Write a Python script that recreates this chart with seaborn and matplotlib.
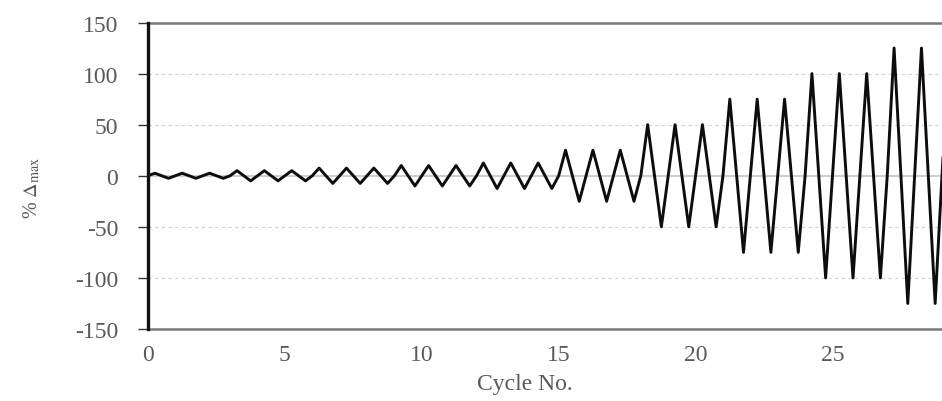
import pandas as pd
import matplotlib
matplotlib.use("Agg")
import matplotlib.pyplot as plt
import seaborn as sns

# amplitude (% of max drift) of each loading cycle, 3 cycles per level
cycle_amplitude = [2.5, 2.5, 2.5,
                   5, 5, 5,
                   7.5, 7.5, 7.5,
                   10, 10, 10,
                   12.5, 12.5, 12.5,
                   25, 25, 25,
                   50, 50, 50,
                   75, 75, 75,
                   100, 100, 100,
                   125, 125, 125]
y_ticks = [-150, -100, -50, 0, 50, 100, 150]
x_ticks = [0, 5, 10, 15, 20, 25]

# triangular history: 0 -> +a -> -a -> 0 in each cycle
xs, ys = [0.0], [0.0]
for n, a in enumerate(cycle_amplitude):
    xs += [n + 0.25, n + 0.75, n + 1.0]
    ys += [a, -a, 0.0]
df = pd.DataFrame({"cycle": xs, "drift": ys})

sns.set_theme(style="white")
plt.rcParams["font.family"] = ["Liberation Serif", "DejaVu Serif"]
plt.rcParams["mathtext.fontset"] = "stix"
plt.rcParams["axes.unicode_minus"] = False

fig = plt.figure(figsize=(9.42, 4.02), dpi=100)
ax = fig.add_axes([148 / 942, 72 / 402, 794 / 942, 306.5 / 402])

# grid lines
for v in [-100, -50, 50, 100]:
    ax.axhline(v, color="#d4d4d4", linestyle=(0, (3, 3)), linewidth=0.8, zorder=0)
ax.axhline(0, color="#cfcfcf", linewidth=1.5, zorder=0)

sns.lineplot(data=df, x="cycle", y="drift", color="#0d0d0d", linewidth=2.1,
             estimator=None, ax=ax, zorder=3)

ax.set_xlim(0, 29)
ax.set_ylim(-150, 150)
ax.set_xticks(x_ticks)
ax.set_yticks(y_ticks)

ax.spines["right"].set_visible(False)
ax.spines["left"].set_color("#111111")
ax.spines["left"].set_linewidth(2.4)
ax.spines["left"].set_zorder(4)
for s in ["top", "bottom"]:
    ax.spines[s].set_color("#7a7a7a")
    ax.spines[s].set_linewidth(1.8)

ax.tick_params(axis="x", length=0, pad=11, labelsize=17, labelcolor="#5a5a5a")
ax.tick_params(axis="y", left=True, direction="out", length=7.5, width=1.0,
               color="#333333", pad=14, labelsize=17, labelcolor="#5a5a5a")

ax.set_xlabel("Cycle No.", fontsize=17, color="#5a5a5a")
ax.set_ylabel(r"% $\Delta_{\rm max}$", fontsize=14.5, color="#5a5a5a")
ax.xaxis.set_label_coords(0.475, -0.145)
ax.yaxis.set_label_coords(-0.133, 0.463)

fig.savefig("out.png", dpi=100)
